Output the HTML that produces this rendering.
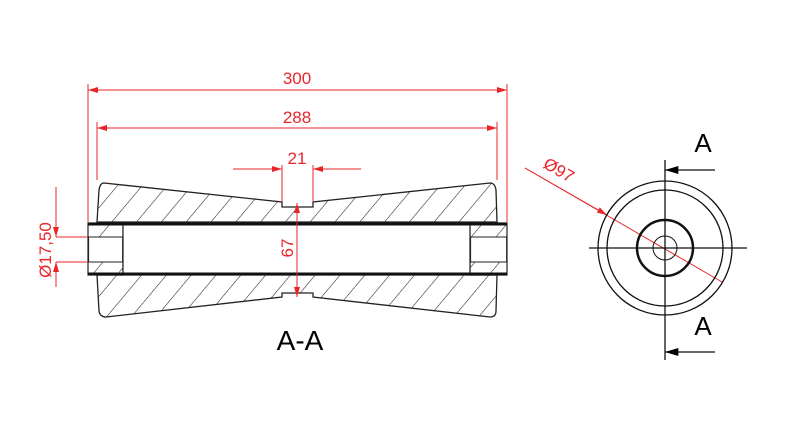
<!DOCTYPE html>
<html><head><style>body{margin:0;background:#fff}svg{display:block}</style></head>
<body>
<svg width="800" height="437" viewBox="0 0 800 437" xmlns="http://www.w3.org/2000/svg" font-family="Liberation Sans, sans-serif">
<defs>
<pattern id="h" patternUnits="userSpaceOnUse" width="19" height="20" patternTransform="rotate(40)">
<line x1="0" y1="0" x2="0" y2="20" stroke="#222" stroke-width="1.1"/>
</pattern>
<marker id="ar" viewBox="0 0 10 6" refX="10" refY="3" markerWidth="16" markerHeight="6" markerUnits="userSpaceOnUse" orient="auto-start-reverse"><path d="M0,0L10,3L0,6z" fill="#e8262a"/></marker>
<marker id="ab" viewBox="0 0 10 6" refX="10" refY="3" markerWidth="18" markerHeight="8" markerUnits="userSpaceOnUse" orient="auto"><path d="M0,0L10,3L0,6z" fill="#000"/></marker>
</defs>
<path d="M104,183 Q100,183 99,190 L97,222 L497,222 L496,190 Q495,183 490,183 L313,202 L313,207 L282,207 L282,202 Z" fill="url(#h)" stroke="#222" stroke-width="1.3"/>
<path d="M97,275 L99,311 Q100,317 106,317 L282,297 L282,293 L313,293 L313,297 L490,317 Q496,317 496,311 L497,275 Z" fill="url(#h)" stroke="#222" stroke-width="1.3"/>
<rect x="88" y="223" width="35" height="52" fill="url(#h)" stroke="#222" stroke-width="1.2"/>
<rect x="470" y="223" width="37" height="52" fill="url(#h)" stroke="#222" stroke-width="1.2"/>
<rect x="88.6" y="237" width="34" height="25" fill="#fff" stroke="#222" stroke-width="1"/>
<rect x="470.6" y="237" width="36" height="25" fill="#fff" stroke="#222" stroke-width="1"/>
<rect x="123" y="226" width="347" height="47" fill="#fff"/>
<line x1="123" y1="226" x2="123" y2="273" stroke="#222" stroke-width="1.2"/>
<line x1="470" y1="226" x2="470" y2="273" stroke="#222" stroke-width="1.2"/>
<line x1="88" y1="224" x2="507" y2="224" stroke="#111" stroke-width="3"/>
<line x1="88" y1="274" x2="507" y2="274" stroke="#111" stroke-width="3"/>
<g stroke="#e8262a" stroke-width="1" fill="none">
<line x1="88" y1="84" x2="88" y2="222"/>
<line x1="507" y1="84" x2="507" y2="222"/>
<line x1="97" y1="122" x2="97" y2="180"/>
<line x1="497" y1="122" x2="497" y2="180"/>
<line x1="88" y1="90" x2="507" y2="90" marker-start="url(#ar)" marker-end="url(#ar)"/>
<line x1="97" y1="128" x2="497" y2="128" marker-start="url(#ar)" marker-end="url(#ar)"/>
<line x1="282" y1="165" x2="282" y2="202"/>
<line x1="313" y1="165" x2="313" y2="202"/>
<line x1="233" y1="169" x2="282" y2="169" marker-end="url(#ar)"/>
<line x1="361" y1="169" x2="313" y2="169" marker-end="url(#ar)"/>
<line x1="297" y1="203" x2="297" y2="297" marker-start="url(#ar)" marker-end="url(#ar)"/>
<line x1="56" y1="237" x2="88" y2="237"/>
<line x1="56" y1="262" x2="88" y2="262"/>
<line x1="56" y1="187" x2="56" y2="237" marker-end="url(#ar)"/>
<line x1="56" y1="287" x2="56" y2="262" marker-end="url(#ar)"/>
<line x1="525" y1="168" x2="722" y2="282"/>
<line x1="525" y1="168" x2="607" y2="215" marker-end="url(#ar)"/>
</g>
<g fill="#e8262a" font-size="17" text-anchor="middle">
<text x="297" y="84">300</text>
<text x="297" y="123">288</text>
<text x="297" y="164">21</text>
<text transform="translate(293,248) rotate(-90)">67</text>
<text transform="translate(51,250) rotate(-90)">Ø17,50</text>
<text transform="translate(556,175) rotate(30)">Ø97</text>
</g>
<text x="300" y="350" font-size="28" text-anchor="middle">A-A</text>
<g stroke="#111" fill="none">
<circle cx="665" cy="248" r="67" stroke-width="1.3"/>
<circle cx="665" cy="248" r="58" stroke-width="1.3"/>
<circle cx="665" cy="248" r="28" stroke-width="2.5"/>
<circle cx="665" cy="248" r="12" stroke-width="1"/>
<line x1="665" y1="160" x2="665" y2="360" stroke-width="1.3"/>
<line x1="589" y1="248" x2="747" y2="248" stroke-width="1.2"/>
<line x1="715" y1="170" x2="665" y2="170" stroke-width="1.2" marker-end="url(#ab)"/>
<line x1="715" y1="352" x2="665" y2="352" stroke-width="1.2" marker-end="url(#ab)"/>
</g>
<text x="703" y="152" font-size="26" text-anchor="middle">A</text>
<text x="703" y="335" font-size="26" text-anchor="middle">A</text>
</svg>
</body></html>
